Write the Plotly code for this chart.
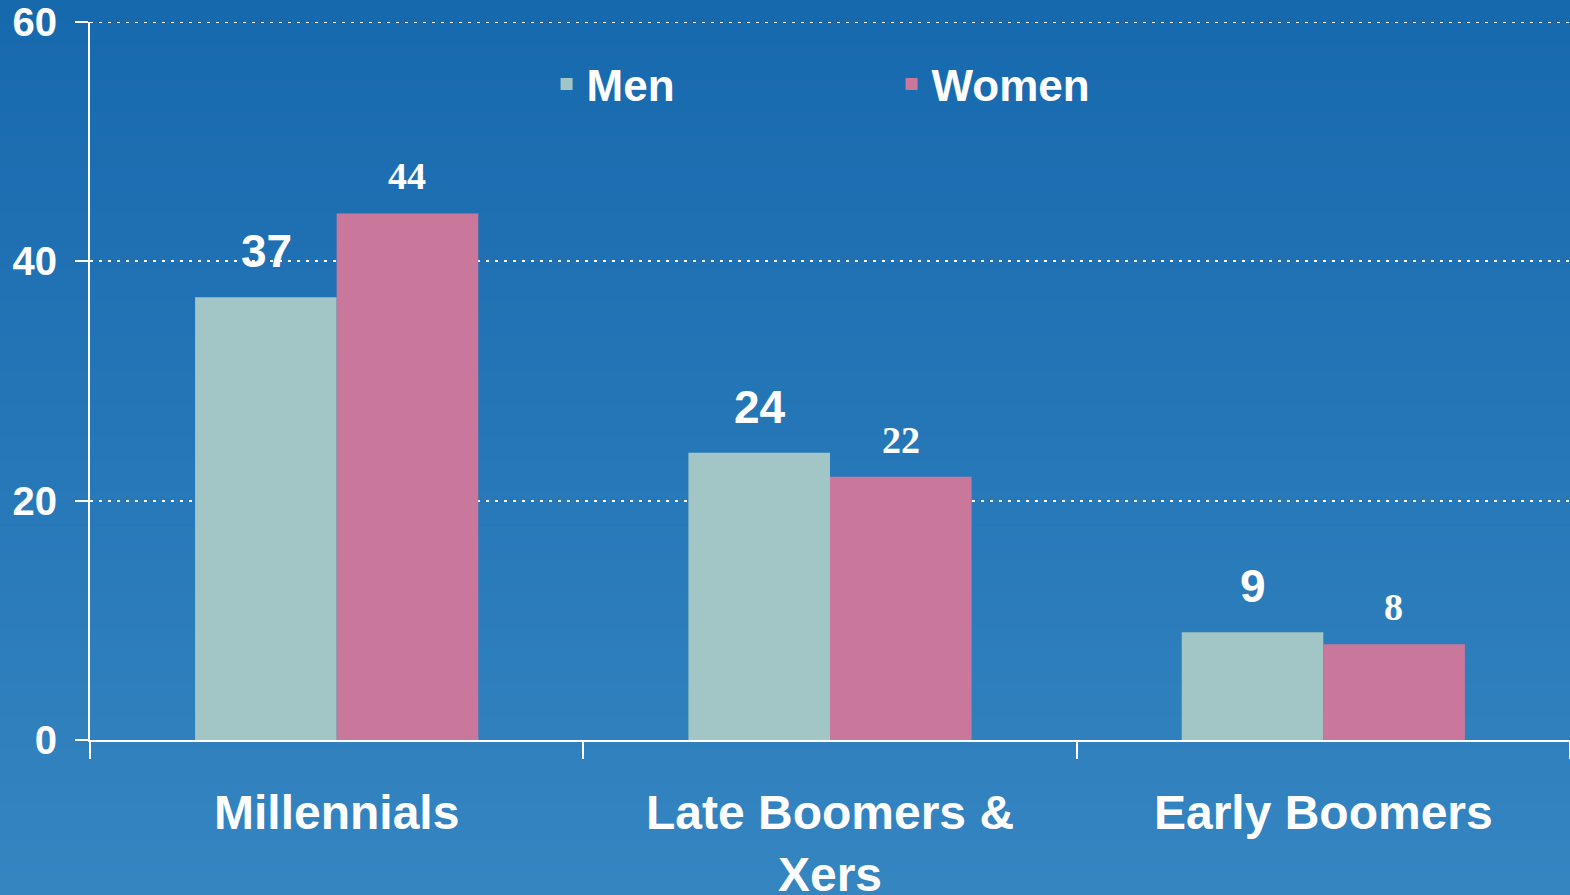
import plotly.graph_objects as go

categories = ["Millennials", "Late Boomers &<br>Xers", "Early Boomers"]
men = [37, 24, 9]
women = [44, 22, 8]
y_ticks = [0, 20, 40, 60]

W, H = 1570, 895
ML, MR, MT, MB = 90, 0, 22, 155

fig = go.Figure()
fig.add_trace(go.Bar(name="Men", x=categories, y=men,
                     marker=dict(color="#a2c6c5", line=dict(width=0))))
fig.add_trace(go.Bar(name="Women", x=categories, y=women,
                     marker=dict(color="#c9789b", line=dict(width=0))))

# background vertical gradient built from thin strips
top = (23, 105, 174)
bot = (53, 133, 193)
n = 80
ph = H - MT - MB
shapes = []
for i in range(n):
    t = i / (n - 1)
    c = tuple(round(top[k] + (bot[k] - top[k]) * t) for k in range(3))
    y1 = 1 + MT / ph - i * (H / ph) / n
    y0 = 1 + MT / ph - (i + 1) * (H / ph) / n - 0.002
    if i == 0:
        y1 += 0.1
    if i == n - 1:
        y0 -= 0.1
    shapes.append(dict(type="rect", xref="paper", yref="paper", layer="below",
                       x0=-0.1, x1=1.1, y0=y0, y1=y1,
                       fillcolor="rgb(%d,%d,%d)" % c, line=dict(width=0)))

# dotted gridline at the top tick (plotly drops gridlines on the range edge)
shapes.append(dict(type="line", xref="paper", yref="y", layer="below",
                   x0=0, x1=1, y0=y_ticks[-1], y1=y_ticks[-1],
                   line=dict(color="white", width=2, dash="3px,6px")))

# value labels
annotations = []
half = 70.5
for i, cat in enumerate(categories):
    annotations.append(dict(x=cat, y=men[i], xref="x", yref="y", text=str(men[i]),
                            showarrow=False, xshift=-half, yshift=18, yanchor="bottom",
                            font=dict(family="Liberation Sans, Arial", size=46, color="white",
                                      weight="bold")))
    annotations.append(dict(x=cat, y=women[i], xref="x", yref="y", text=str(women[i]),
                            showarrow=False, xshift=half, yshift=14, yanchor="bottom",
                            font=dict(family="Liberation Serif, Times New Roman", size=38,
                                      color="white", weight="bold")))

fig.update_layout(
    width=W, height=H,
    margin=dict(l=ML, r=MR, t=MT, b=MB, pad=0, autoexpand=False),
    paper_bgcolor="#2a78b8",
    plot_bgcolor="rgba(0,0,0,0)",
    barmode="group", bargap=0.426, bargroupgap=0,
    shapes=shapes,
    annotations=annotations,
    font=dict(family="Liberation Sans, Arial", color="white"),
    showlegend=True,
    legend=dict(orientation="h", x=0.3085, y=0.913, xanchor="left", yanchor="middle",
                bgcolor="rgba(0,0,0,0)", entrywidth=300, entrywidthmode="pixels",
                font=dict(family="Liberation Sans, Arial", size=44, color="white",
                          weight="bold"),
                traceorder="normal"),
    xaxis=dict(showline=True, linecolor="white", linewidth=2, automargin=False,
               ticks="outside", tickson="boundaries", ticklen=17, tickwidth=1.5,
               tickcolor="white", showgrid=False,
               tickfont=dict(family="Liberation Sans, Arial", size=48, color="white",
                             weight="bold"),
               ticklabelstandoff=29),
    yaxis=dict(range=[0, 60], tickvals=y_ticks, showline=True, linecolor="white",
               linewidth=2, ticks="outside", ticklen=13, tickwidth=2, tickcolor="white",
               automargin=False,
               showgrid=True, gridcolor="white", gridwidth=2, griddash="3px,6px",
               zeroline=False,
               tickfont=dict(family="Liberation Sans, Arial", size=40, color="white",
                             weight="bold"),
               ticklabelstandoff=10),
)

fig.write_html("out.html", config={"displayModeBar": False},
               post_script="document.body.style.margin='0';document.body.style.padding='0';"
                           "document.body.style.overflow='hidden';")
